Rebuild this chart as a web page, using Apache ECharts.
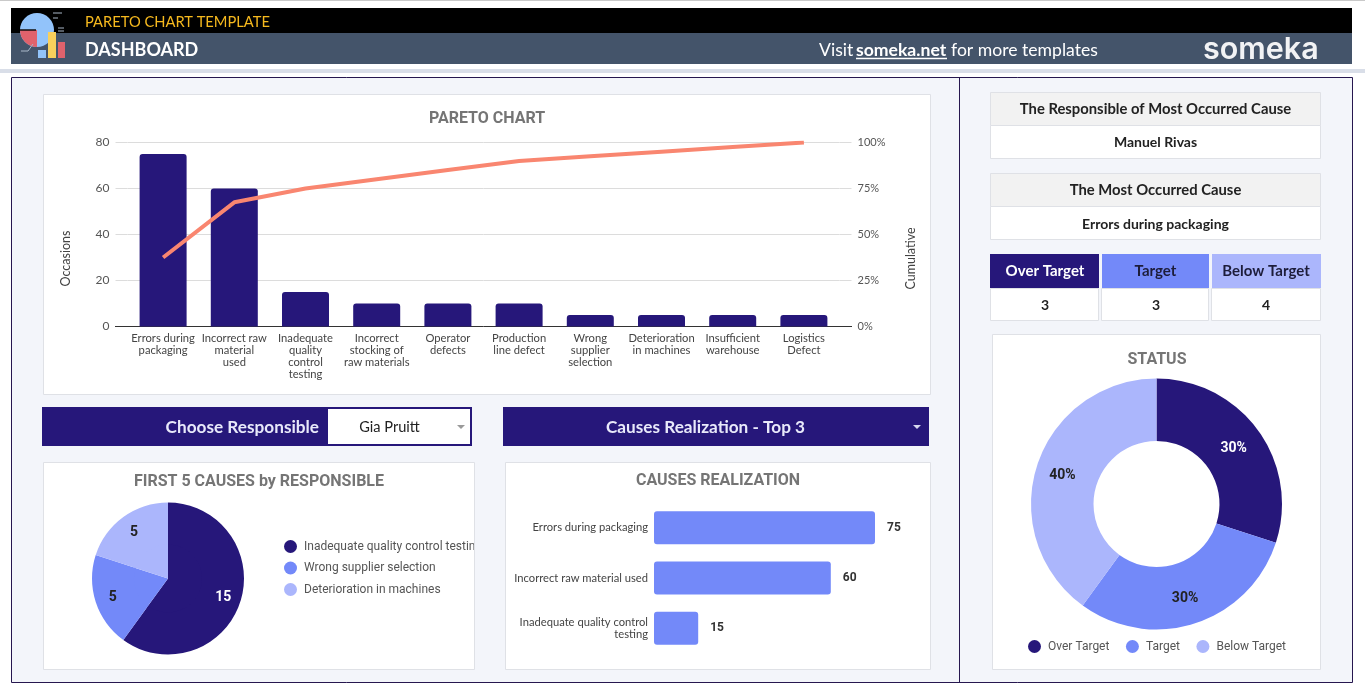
<!DOCTYPE html>
<html><head><meta charset="utf-8">
<style>html,body{margin:0;padding:0;background:#fff}#c{width:1365px;height:700px}</style>
<script src="https://cdn.jsdelivr.net/npm/echarts@6/dist/echarts.min.js"></script>
</head><body><div id="c"></div>
<script>
const NAVY='#26177A', BLUE='#7389F9', LIGHT='#ABB6FC', SALMON='#F98670';
const paretoCategories=['Errors during\npackaging','Incorrect raw\nmaterial\nused','Inadequate\nquality\ncontrol\ntesting','Incorrect\nstocking of\nraw materials','Operator\ndefects','Production\nline defect','Wrong\nsupplier\nselection','Deterioration\nin machines','Insufficient\nwarehouse','Logistics\nDefect'];
const occasions=[75,60,15,10,10,10,5,5,5,5];
const cumulative=[37.5,67.5,75,80,85,90,92.5,95,97.5,100];
const firstFiveNames=['Inadequate quality control testing','Wrong supplier selection','Deterioration in machines'];
const firstFiveValues=[15,5,5];
const realizationNames=['Errors during packaging','Incorrect raw material used','Inadequate quality control\ntesting'];
const realizationValues=[75,60,15];
const statusNames=['Over Target','Target','Below Target'];
const statusValues=[3,3,4];
const statusLabels=['30%','30%','40%'];

const chart=echarts.init(document.getElementById('c'),null,{renderer:'canvas'});
const rect=(x,y,w,h,fill,stroke,z=-10)=>({type:'rect',silent:true,z,shape:{x,y,width:w,height:h},style:{fill,stroke:stroke||null,lineWidth:stroke?1:0}});
const txt=(x,y,t,font,fill,align='center',z=5)=>({type:'text',silent:true,z,x,y,style:{text:t,font,fill,align,verticalAlign:'middle'}});
const hline=(x1,y1,x2,y2,stroke,w=1,z=5)=>({type:'line',silent:true,z,shape:{x1,y1,x2,y2},style:{stroke,lineWidth:w}});
const tri=(x,y,c)=>({type:'polygon',silent:true,z:5,shape:{points:[[x-4,y-2],[x+4,y-2],[x,y+2]]},style:{fill:c}});
const LB=(s)=>`bold ${s}px Lato`, LN=(s)=>`${s}px Lato`, RB=(s)=>`bold ${s}px Roboto`;
const TITLE='#757575', BORDER='#DFE1E6';

const graphics=[
 rect(0,0,1365,1,'#C9C9C9'),
 rect(11,8,1341,25,'#000'),
 rect(11,33,1341,31,'#44546A'),
 rect(0,69,1365,4,'#D9DEE8'),
 rect(11.5,77.5,1341,605,'#F3F5FA','#26174F'),
 hline(959.5,78,959.5,682,'#26174F',1,-9),
 // logo
 {type:'circle',silent:true,z:2,shape:{cx:37,cy:30,r:17},style:{fill:'#92C3FA'}},
 {type:'sector',silent:true,z:3,shape:{cx:37,cy:30,r0:0,r:17,startAngle:Math.PI/2,endAngle:Math.PI},style:{fill:'#E0626C'}},
 hline(20,30,36,30,'#111',1.5,4),
 rect(38,50,8,8,'#92C3FA',null,4), rect(48,32,8,26,'#F9D05C',null,4), rect(58,42,7,16,'#E0626C',null,4),
 hline(53,13,62,13,'#A9B7C8',1,4), hline(53,18,58,18,'#A9B7C8',1,4),
 hline(58,28,64,28,'#A9B7C8',1,4), hline(58,31,64,31,'#A9B7C8',1,4),
 hline(21,51,28,51,'#A9B7C8',1,4), hline(28,51,33,44,'#A9B7C8',1,4),
 txt(85,22,'PARETO CHART TEMPLATE',LN(14.7),'#F6B91E','left'),
 txt(85,50.5,'DASHBOARD',LB(18),'#fff','left'),
 txt(819,50,'Visit',LN(17.6),'#fff','left'),
 txt(856,50,'someka.net',LB(17.6),'#fff','left'),
 hline(856,58.5,947,58.5,'#fff',1.5),
 txt(951,50,'for more templates',LN(17.6),'#fff','left'),
 {type:'text',silent:true,z:5,x:1203,y:50,style:{text:'someka',font:'600 30.5px Inter',fill:'#F2F3F5',align:'left',verticalAlign:'middle'}},
 // panels
 rect(43.5,94.5,887,300,'#fff',BORDER),
 rect(43.5,462.5,431,207,'#fff',BORDER),
 rect(505.5,462.5,425,207,'#fff',BORDER),
 rect(992.5,334.5,328,335,'#fff',BORDER),
 txt(487,119,'PARETO CHART',RB(16),TITLE),
 txt(259,482,'FIRST 5 CAUSES by RESPONSIBLE',RB(16),TITLE),
 txt(718,481,'CAUSES REALIZATION',RB(16),TITLE),
 txt(1157,360,'STATUS',RB(16),TITLE),
 // selectors
 rect(42,407,430,39,NAVY),
 rect(328,409,142,35,'#fff'),
 txt(319,427.5,'Choose Responsible',LB(17.2),'#E8E9FA','right'),
 txt(389.5,427.5,'Gia Pruitt',LN(14.6),'#222'),
 tri(461,427,'#9A9A9A'),
 rect(503,407,426,39,NAVY),
 txt(705.5,427.5,'Causes Realization - Top 3',LB(17.2),'#E8E9FA'),
 tri(917,427,'#D6D8EE'),
 // right cards
 rect(990.5,92.5,330,33,'#F2F2F2',BORDER), rect(990.5,125.5,330,33,'#fff',BORDER),
 txt(1155.5,109.5,'The Responsible of Most Occurred Cause',LB(14.8),'#222'),
 txt(1155.5,142.5,'Manuel Rivas',LB(14),'#222'),
 rect(990.5,173.5,330,33,'#F2F2F2',BORDER), rect(990.5,206.5,330,33,'#fff',BORDER),
 txt(1155.5,190.5,'The Most Occurred Cause',LB(14.8),'#222'),
 txt(1155.5,224,'Errors during packaging',LB(14),'#222'),
 rect(990.5,288.5,108,32,'#fff',BORDER), rect(1101.5,288.5,107,32,'#fff',BORDER), rect(1211.5,288.5,109,32,'#fff',BORDER),
 rect(990,254,109,34,NAVY), rect(1102,254,107,34,BLUE), rect(1212,254,109,34,LIGHT),
 txt(1045,271.5,statusNames[0],LB(15),'#fff'), txt(1155.5,271.5,statusNames[1],LB(15),'#1d1d3a'), txt(1266,271.5,statusNames[2],LB(15),'#1d1d3a'),
 txt(1045,305,String(statusValues[0]),LB(14),'#222'), txt(1156,305,String(statusValues[1]),LB(14),'#222'), txt(1266,305,String(statusValues[2]),LB(14),'#222'),
 // zero-line stubs on either side of the pareto plot
 hline(115,326.5,128,326.5,'#333',1,6), hline(839,326.5,852,326.5,'#333',1,6),
 // legend text clipped by the panel edge, as in the source dashboard
 rect(475,538,9,16,'#F3F5FA',null,8), hline(474.5,538,474.5,554,BORDER,1,8)
];

const pieData=firstFiveNames.map((n,i)=>({name:n,value:firstFiveValues[i],itemStyle:{color:[NAVY,BLUE,LIGHT][i]}}));
const statusData=statusNames.map((n,i)=>({name:n,value:statusValues[i],itemStyle:{color:[NAVY,BLUE,LIGHT][i]},
  label:{color:i===0?'#fff':'#222'}}));

chart.setOption({
 animation:false,
 backgroundColor:'#fff',
 graphic:{elements:graphics},
 legend:[
  {data:firstFiveNames,orient:'vertical',left:279,top:535,icon:'circle',itemWidth:13,itemHeight:13,itemGap:8.5,
   textStyle:{fontFamily:'Roboto',fontSize:12,color:'#555',width:178,overflow:'truncate',ellipsis:'',padding:[0,0,0,2]},selectedMode:false},
  {data:statusNames,orient:'horizontal',left:1023,top:635,icon:'circle',itemWidth:13,itemHeight:13,itemGap:16.5,
   textStyle:{fontFamily:'Roboto',fontSize:12,color:'#555',padding:[0,0,0,2]},selectedMode:false}
 ],
 grid:[
  {left:127.5,top:142.5,width:712,height:184,containLabel:false},
  {left:654,top:502.5,width:265.2,height:151,containLabel:false}
 ],
 xAxis:[
  {type:'category',gridIndex:0,data:paretoCategories,boundaryGap:true,
   axisTick:{show:false},axisLine:{lineStyle:{color:'#333'}},
   axisLabel:{interval:0,margin:6,fontFamily:'Lato',fontSize:11.2,lineHeight:12,color:'#444'}},
  {type:'value',gridIndex:1,min:0,max:90,show:false}
 ],
 yAxis:[
  {type:'value',gridIndex:0,min:0,max:80,interval:20,name:'Occasions',nameLocation:'middle',nameGap:55,
   nameTextStyle:{fontFamily:'Lato',fontSize:12.5,color:'#444',padding:[0,48,0,0]},
   axisLine:{show:false},axisTick:{show:true,length:12,lineStyle:{color:'#DCDCDC'}},
   axisLabel:{margin:18,fontFamily:'Lato',fontSize:12,color:'#555'},
   splitLine:{lineStyle:{color:'#DCDCDC'}}},
  {type:'value',gridIndex:0,min:0,max:100,interval:25,position:'right',name:'Cumulative',nameLocation:'middle',nameGap:65,
   nameTextStyle:{fontFamily:'Lato',fontSize:12.5,color:'#444',padding:[0,48,0,0]},
   axisLine:{show:false},axisTick:{show:true,length:12,lineStyle:{color:'#DCDCDC'}},
   axisLabel:{margin:18,fontFamily:'Lato',fontSize:11,color:'#555',formatter:'{value}%'},
   splitLine:{show:false}},
  {type:'category',gridIndex:1,data:realizationNames,inverse:true,
   axisLine:{show:false},axisTick:{show:false},
   axisLabel:{interval:0,margin:6,fontFamily:'Lato',fontSize:11.2,lineHeight:12,color:'#444'}}
 ],
 series:[
  {type:'bar',name:'Occasions',xAxisIndex:0,yAxisIndex:0,data:occasions,barWidth:47,
   itemStyle:{color:NAVY,borderRadius:[3,3,0,0]},z:2},
  {type:'line',name:'Cumulative',xAxisIndex:0,yAxisIndex:1,data:cumulative,symbol:'none',
   lineStyle:{color:SALMON,width:4},z:3},
  {type:'bar',name:'Realization',xAxisIndex:1,yAxisIndex:2,data:realizationValues,barWidth:33,
   itemStyle:{color:BLUE,borderRadius:3},
   label:{show:true,position:'right',distance:12,fontFamily:'Roboto',fontWeight:'bold',fontSize:12,color:'#333'}},
  {type:'pie',name:'FirstFiveCore',center:[168,578.5],radius:[0,36],startAngle:90,clockwise:true,data:pieData,
   label:{show:false},labelLine:{show:false},silent:true,legendHoverLink:false,tooltip:{show:false}},
  {type:'pie',name:'FirstFive',center:[168,578.5],radius:[34,76],startAngle:90,clockwise:true,
   data:pieData.map((d,i)=>({...d,label:{color:i===0?'#fff':'#222'}})),
   label:{show:true,position:'inside',formatter:'{c}',fontFamily:'Roboto',fontWeight:'bold',fontSize:14},labelLine:{show:false},
   labelLayout:{dy:1}},
  {type:'pie',name:'Status',center:[1156.5,504],radius:[63,125.5],startAngle:90,clockwise:true,data:statusData,
   label:{show:true,position:'inside',formatter:(p)=>statusLabels[p.dataIndex],fontFamily:'Roboto',fontWeight:'bold',fontSize:14},labelLine:{show:false},
   labelLayout:{dx:-1.5,dy:2}}
 ]
});
</script></body></html>
